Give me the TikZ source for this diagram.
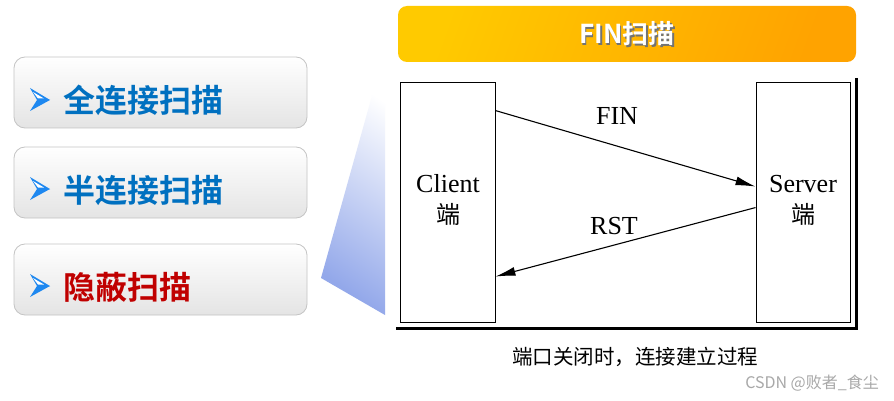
\documentclass[tikz,border=0pt]{standalone}
\usepackage{fontspec}
\setmainfont{Liberation Serif}
\newfontfamily\cjk{Noto Sans CJK SC}
\newfontfamily\cjkbold{Noto Sans CJK SC Bold}
\usetikzlibrary{arrows.meta,calc}
\definecolor{tblue}{HTML}{0070C0}
\definecolor{tred}{HTML}{C00000}
\definecolor{arrblue}{HTML}{1E88F0}
\definecolor{boxline}{HTML}{C4C4C4}
\definecolor{boxbot}{HTML}{E4E4E4}
\definecolor{wedge}{HTML}{93A8EA}
\definecolor{oy}{HTML}{FFCA00}
\definecolor{oo}{HTML}{FFA300}
\definecolor{wm}{HTML}{A8A8A8}
\tikzset{
  lbox/.style={draw=boxline, line width=0.8pt, rounded corners=11pt, top color=white, bottom color=boxbot, minimum width=293pt, minimum height=71pt, inner sep=0pt},
  ltext/.style={anchor=west, font=\cjkbold\fontsize{32pt}{32pt}\selectfont, inner sep=0pt},
  hostbox/.style={draw=black, line width=0.9pt, minimum width=95pt, minimum height=240pt, inner sep=0pt},
  serif/.style={font=\fontsize{26pt}{26pt}\selectfont, inner sep=0pt},
  cjkserif/.style={font=\cjk\fontsize{24pt}{24pt}\selectfont, inner sep=0pt},
  msg/.style={line width=1.1pt, -{Latex[length=20pt,width=9pt]}},
}
\newcommand{\bulletarrow}[1]{%
  \fill[arrblue] ($(#1)+(-2,-12)$) -- ($(#1)+(18,0)$) -- ($(#1)+(5,0)$) -- cycle;
  \fill[arrblue] ($(#1)+(-2,11)$) -- ($(#1)+(18,0)$) -- ($(#1)+(5,0)$) -- cycle;
  \fill[white] ($(#1)+(1,-8)$) -- ($(#1)+(12,-1.5)$) -- ($(#1)+(6,-1.5)$) -- cycle;
}
\begin{document}
\begin{tikzpicture}[x=1pt,y=-1pt]
\useasboundingbox (0,0) rectangle (894,401);
\fill[white] (0,0) rectangle (894,401);
% left boxes
\node[lbox] (b1) at (160.5,92.5) {};
\node[lbox] (b2) at (160.5,182.5) {};
\node[lbox] (b3) at (160.5,279.5) {};
\coordinate (a1) at (32,100);
\coordinate (a2) at (32,189);
\coordinate (a3) at (32,286);
\bulletarrow{a1}
\bulletarrow{a2}
\bulletarrow{a3}
\node[ltext, text=tblue] (t1) at (63,100) {全连接扫描};
\node[ltext, text=tblue] (t2) at (63,190) {半连接扫描};
\node[ltext, text=tred] (t3) at (63,287) {隐蔽扫描};
% wedge
\shade[top color=white, bottom color=wedge, shading angle=-35] (321,278) -- (382,60) -- (385,60) -- (385,315) -- cycle;
% title bar
\node[rounded corners=9pt, left color=oy, right color=oo, shading angle=70, minimum width=458pt, minimum height=56pt, inner sep=0pt] (title) at (627,34) {};
\node[text=black!55, font=\cjkbold\fontsize{26pt}{26pt}\selectfont, inner sep=0pt] (titlesh) at (628.5,35.5) {FIN扫描};
\node[text=white, font=\cjkbold\fontsize{26pt}{26pt}\selectfont, inner sep=0pt] (titletx) at (627,34) {FIN扫描};
% diagram frame
\coordinate (fr1) at (856,78);
\coordinate (fr2) at (856,328);
\coordinate (fr3) at (396,328);
\draw[line width=3pt] (fr1) -- (fr2) -- (fr3);
\node[hostbox] (client) at (447.5,202) {};
\node[hostbox, minimum width=94pt] (server) at (803,202) {};
\node[serif] (cl1) at (448,184) {Client};
\node[cjkserif] (cl2) at (448,214) {端};
\node[serif] (sv1) at (803,184) {Server};
\node[cjkserif] (sv2) at (803,214) {端};
\coordinate (f0) at ($(client.north east)+(0,29)$);
\coordinate (f1) at ($(server.north west)+(0,105)$);
\coordinate (r0) at ($(server.north west)+(0,126)$);
\coordinate (r1) at ($(client.north east)+(0,195)$);
\draw[msg] (f0) -- (f1);
\draw[msg] (r0) -- (r1);
\node[serif] (fin) at (617,116) {FIN};
\node[serif] (rst) at (614,226) {RST};
% caption
\node[font=\cjk\fontsize{20.5pt}{20.5pt}\selectfont, inner sep=0pt] (cap) at (635,357) {端口关闭时，连接建立过程};
\node[font=\cjk\fontsize{16pt}{16pt}\selectfont, text=wm, inner sep=0pt, anchor=east] (wmk) at (879,383) {CSDN @败者\_食尘};
\end{tikzpicture}
\end{document}
